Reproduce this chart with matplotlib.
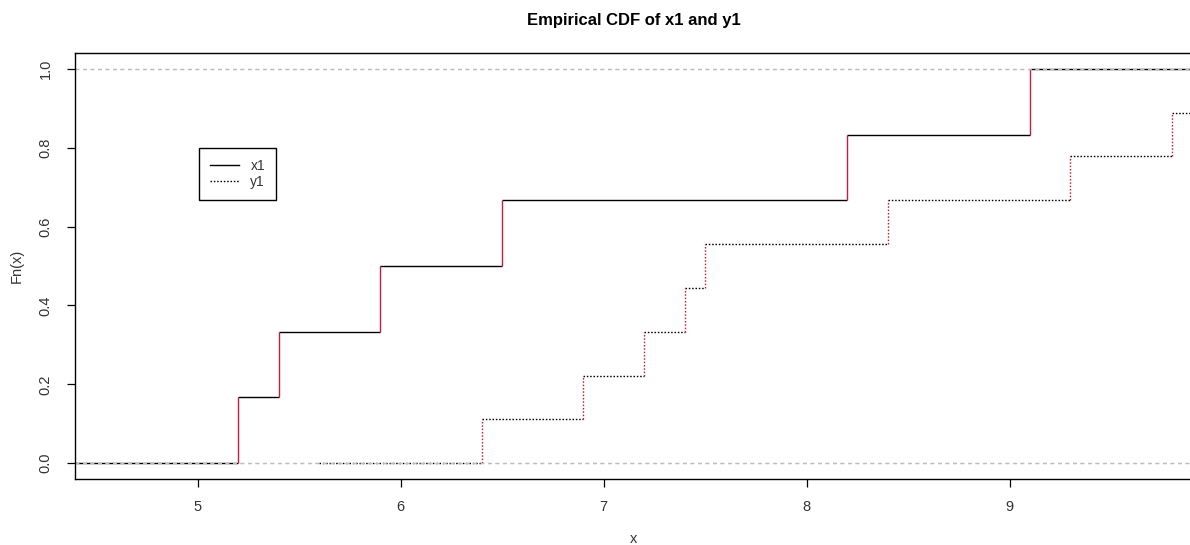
import numpy as np
import matplotlib
matplotlib.use("Agg")
import matplotlib.pyplot as plt
from matplotlib.lines import Line2D

plt.rcParams['font.family'] = ['Liberation Sans', 'DejaVu Sans']

# Samples
x1 = [5.2, 5.4, 5.9, 6.5, 8.2, 9.1]
y1 = [6.4, 6.9, 7.2, 7.4, 7.5, 8.4, 9.3, 9.8, 9.9]

x_ticks = [5, 6, 7, 8, 9]
y_ticks = [0.0, 0.2, 0.4, 0.6, 0.8, 1.0]
series_labels = ["x1", "y1"]

VERT_RED = "#C41E3A"
GRID_GRAY = "#BDBDBD"
TXT = "#333333"

W, H = 1190, 545
fig = plt.figure(figsize=(W / 100, H / 100), dpi=100)
# plot box: left 75px, top 53px, bottom 479px, right edge at 1193px
ax = fig.add_axes([75 / W, (H - 479) / H, (1193 - 75) / W, (479 - 53) / H])


def step_extent(knots):
    """Default step-function x range and padding (as in R's plot.stepfun)."""
    k = np.sort(np.asarray(knots, dtype=float))
    rx = (k[0], k[-1])
    dr = max(0.08 * (rx[1] - rx[0]), float(np.median(np.diff(k))))
    return (rx[0] - dr, rx[1] + dr), dr


def draw_ecdf(ax, data, ls, dashes=None):
    k = np.sort(np.asarray(data, dtype=float))
    n = len(k)
    xlim, dr = step_extent(k)
    levels = np.arange(n + 1) / n
    edges = np.concatenate([[xlim[0] - dr], k, [xlim[1] + dr]])
    kw = dict(lw=1.0, solid_capstyle="butt")
    if dashes is not None:
        kw["dashes"] = dashes
    # horizontal pieces
    for i in range(n + 1):
        ax.plot([edges[i], edges[i + 1]], [levels[i], levels[i]],
                color="black", linestyle=ls, **kw)
    # vertical jumps
    for i in range(n):
        ax.plot([k[i], k[i]], [levels[i], levels[i + 1]],
                color=VERT_RED, linestyle=ls, **kw)
    # reference lines at 0 and 1
    for h in (0, 1):
        ax.axhline(h, color=GRID_GRAY, lw=0.9, dashes=(3.0, 3.0))
    return xlim


xlim1 = draw_ecdf(ax, x1, "-")
draw_ecdf(ax, y1, ":", dashes=(1.1, 1.3))

# R-style 4% range extension
span = xlim1[1] - xlim1[0]
ax.set_xlim(xlim1[0] - 0.04 * span, xlim1[1] + 0.04 * span)
ax.set_ylim(-0.04, 1.04)

ax.set_xticks(x_ticks)
ax.set_xticklabels([str(t) for t in x_ticks])
ax.set_yticks(y_ticks)
ax.set_yticklabels([f"{t:.1f}" for t in y_ticks], rotation=90, va="center")
ax.tick_params(axis="both", direction="out", length=6, width=0.9,
               labelsize=10.5, colors="black", labelcolor=TXT)
ax.tick_params(axis="x", pad=9)
ax.tick_params(axis="y", pad=10)

for s in ax.spines.values():
    s.set_linewidth(1.0)
    s.set_color("black")

fig.text(634 / W, 1 - 20 / H, "Empirical CDF of x1 and y1", ha="center",
         va="center", fontsize=12, fontweight="bold", color="black")
fig.text(634 / W, 1 - 539 / H, "x", ha="center", va="center", fontsize=10.5,
         color=TXT)
fig.text(17 / W, 1 - 266 / H, "Fn(x)", ha="center", va="center", fontsize=10.5,
         rotation=90, color=TXT)

handles = [Line2D([], [], color="black", lw=1.0, linestyle="-"),
           Line2D([], [], color="black", lw=1.0, linestyle=":", dashes=(1.1, 1.3))]
leg = ax.legend(handles, series_labels, loc="upper left",
                bbox_to_anchor=((199 - 75) / 1118, 1 - (148 - 53) / 426),
                borderaxespad=0, fancybox=False, shadow=False, framealpha=1,
                edgecolor="black", fontsize=10, handlelength=2.1,
                handletextpad=0.8, borderpad=0.8, labelspacing=0.15)
leg.get_frame().set_linewidth(1.0)
for t in leg.get_texts():
    t.set_color(TXT)

fig.savefig("out.png", dpi=100)
